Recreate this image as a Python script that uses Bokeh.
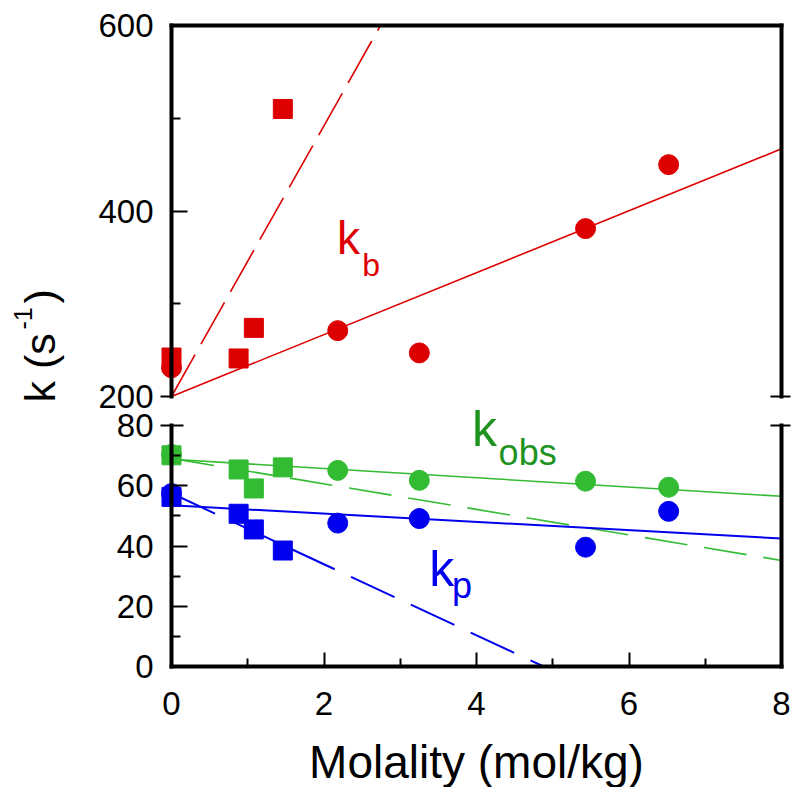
import math
from bokeh.plotting import figure
from bokeh.models import Range1d, LinearAxis, FixedTicker, Label
from bokeh.embed import file_html
from bokeh.resources import INLINE

# ---------------- data ----------------
x_circle = [0.0, 2.18, 3.25, 5.43, 6.52]
x_square = [0.0, 0.88, 1.08, 1.46]

kb_circle = [231, 271, 247, 381, 450]
kb_square = [242, 241, 274, 510]

kobs_circle = [70.4, 65.1, 61.8, 61.5, 59.5]
kobs_square = [70.1, 65.4, 59.1, 66.1]

kp_circle = [57.4, 47.6, 49.1, 39.6, 51.5]
kp_square = [56.3, 50.7, 45.5, 38.5]

# fitted lines (end points)
fit_x = [0, 8]
kb_fit_solid = [200, 467]
kb_dash_x = [0, 2.74]
kb_fit_dash = [200, 600]
kobs_fit_solid = [68.8, 56.5]
kobs_fit_dash = [69.1, 35.2]
kp_fit_solid = [53.5, 42.5]
kp_dash_x = [0, 4.88]
kp_fit_dash = [57.5, 0]

# ticks
x_major = [0, 2, 4, 6, 8]
x_minor = [1, 3, 5, 7]
top_major = [400, 600]
top_minor = [300, 500]
top_break = [200]
bot_major = [0, 20, 40, 60]
bot_minor = [10, 30, 50, 70]
bot_break = [80]

RED = "#dd0000"
GREEN = "#33bb33"
GREEN_TXT = "#1f931f"
BLUE = "#0000ee"
FONT = "Liberation Sans"
TICK_FS = "33px"

# ---------------- layout geometry (pixels) ----------------
W, H = 793, 787
X0_PX, X8_PX = 171, 781
PPX = (X8_PX - X0_PX) / 8.0
T600_PX, T200_PX = 25, 396          # upper panel
B80_PX, B0_PX = 425, 666            # lower panel
PPY_T = (T200_PX - T600_PX) / 400.0
PPY_B = (B0_PX - B80_PX) / 80.0

x_range = Range1d(-X0_PX / PPX, 8 + (W - X8_PX) / PPX)
y_range_top = Range1d(200 - (H - T200_PX) / PPY_T, 600 + T600_PX / PPY_T)
y_range_low = Range1d(0 - (H - B0_PX) / PPY_B, 80 + B80_PX / PPY_B)


def axis(fixed, ticks, minor=(), bounds="auto", tin=0, tout=0, min_in=0,
         labels=True, line=True, standoff=18, rng="default"):
    ax = LinearAxis(fixed_location=fixed, y_range_name=rng,
                    ticker=FixedTicker(ticks=list(ticks), minor_ticks=list(minor)),
                    bounds=bounds,
                    axis_line_width=4, axis_line_color="black" if line else None,
                    axis_line_cap="square",
                    major_tick_line_width=2, major_tick_line_color="black",
                    major_tick_in=tin, major_tick_out=tout,
                    minor_tick_line_width=2, minor_tick_line_color="black",
                    minor_tick_in=min_in, minor_tick_out=0,
                    major_label_text_font=FONT,
                    major_label_text_font_size=TICK_FS,
                    major_label_text_color="black",
                    major_label_standoff=standoff)
    if not labels:
        ax.major_label_overrides = {float(t): "" for t in ticks}
    return ax


p = figure(width=W, height=H, x_range=x_range, y_range=y_range_top,
           extra_y_ranges={"low": y_range_low},
           output_backend="svg", toolbar_location=None,
           x_axis_location=None, y_axis_location=None,
           min_border=0, min_border_left=0, min_border_right=0,
           min_border_top=0, min_border_bottom=0)
p.grid.visible = False
p.outline_line_color = None
p.background_fill_color = "white"
p.border_fill_color = "white"

# ---------------- upper panel axes (k_b) ----------------
p.add_layout(axis(0, top_major, top_minor, (200, 600), tin=16, min_in=9), "left")
p.add_layout(axis(0, top_break, (), (200, 600), tout=11, standoff=7, line=False), "left")
p.add_layout(axis(8, top_break, (), (200, 600), tin=11, tout=9, labels=False), "right")
p.add_layout(axis(600, [], (), (0, 8), labels=False), "above")

# ---------------- lower panel axes (k_obs, k_p) ----------------
p.add_layout(axis(0, bot_major, bot_minor, (0, 80), tin=16, min_in=9, rng="low"), "left")
p.add_layout(axis(0, bot_break, (), (0, 80), tin=12, tout=11, standoff=7, line=False,
                  rng="low"), "left")
p.add_layout(axis(8, bot_break, (), (0, 80), tin=11, tout=9, labels=False, rng="low"), "right")
xax = axis(0, x_major, x_minor, (0, 8), tin=14, min_in=8, standoff=25, rng="low")
xax.axis_label = "Molality (mol/kg)"
xax.axis_label_text_font = FONT
xax.axis_label_text_font_size = "46px"
xax.axis_label_text_font_style = "normal"
xax.axis_label_text_color = "black"
xax.axis_label_standoff = 18
p.add_layout(xax, "below")

# ---------------- k_b ----------------
p.line(fit_x, kb_fit_solid, line_color=RED, line_width=1.6)
p.line(kb_dash_x, kb_fit_dash, line_color=RED, line_width=1.6, line_dash="48 12")
p.scatter(x_circle, kb_circle, marker="circle", size=20, color=RED)
p.scatter(x_square, kb_square, marker="square", size=19, color=RED)

# ---------------- k_obs and k_p ----------------
p.line(fit_x, kobs_fit_solid, line_color=GREEN, line_width=1.6, y_range_name="low")
p.line(fit_x, kobs_fit_dash, line_color=GREEN, line_width=1.6, line_dash="43 17",
       y_range_name="low")
p.line(fit_x, kp_fit_solid, line_color=BLUE, line_width=2, y_range_name="low")
p.line(kp_dash_x, kp_fit_dash, line_color=BLUE, line_width=2, line_dash="48 18",
       y_range_name="low")
p.scatter(x_circle, kobs_circle, marker="circle", size=20, color=GREEN, y_range_name="low")
p.scatter(x_square, kobs_square, marker="square", size=19, color=GREEN, y_range_name="low")
p.scatter(x_circle, kp_circle, marker="circle", size=20, color=BLUE, y_range_name="low")
p.scatter(x_square, kp_square, marker="square", size=19, color=BLUE, y_range_name="low")


def lab(x, y, text, size, color, rng="default"):
    p.add_layout(Label(x=x, y=y, text=text, text_font=FONT, text_font_size=size,
                       text_color=color, text_baseline="alphabetic", text_align="left",
                       y_range_name=rng))


lab(2.17, 371, "k", "46px", RED)
lab(2.50, 342, "b", "32px", RED)
lab(3.94, 79.0, "k", "50px", GREEN_TXT, "low")
lab(4.29, 71.2, "obs", "36px", GREEN_TXT, "low")
lab(3.38, 32.3, "k", "50px", BLUE, "low")
lab(3.68, 27.0, "p", "36px", BLUE, "low")

# y-axis title (rotated); screen units measured from the canvas bottom-left
for txt, sx, sy, fs in (("k (s", 39, 385, "43px"), ("-1", 22, 458, "25px"), (")", 39, 484, "43px")):
    p.add_layout(Label(x=sx, y=sy, x_units="screen", y_units="screen", text=txt,
                       angle=math.pi / 2, text_font=FONT, text_font_size=fs,
                       text_color="black", text_baseline="alphabetic", text_align="left"))

open("out.html", "w").write(file_html(p, INLINE))
